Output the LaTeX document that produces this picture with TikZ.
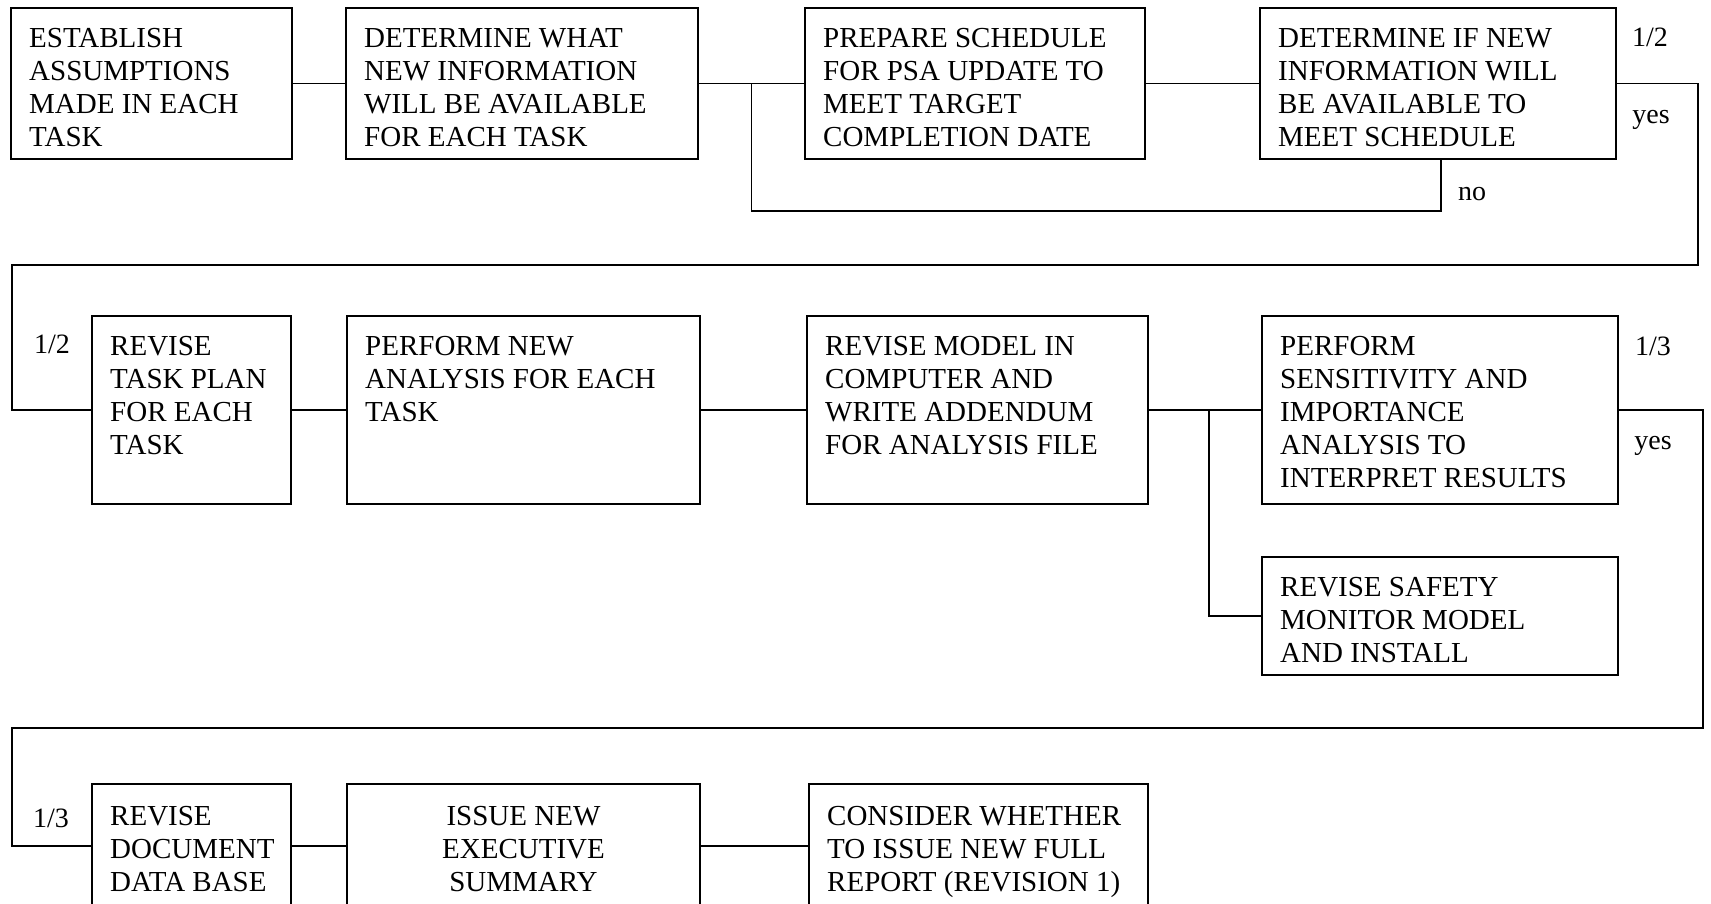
\documentclass[tikz,border=0pt]{standalone}
\usepackage{fontspec}
\setmainfont{Liberation Serif}
\usetikzlibrary{calc}
\tikzset{
  box/.style={draw, line width=1.5pt, inner sep=0pt, outer sep=0pt, anchor=north west},
  txt/.style={inner sep=0pt, anchor=north west, align=left, font=\fontsize{29}{33}\selectfont},
  ctxt/.style={inner sep=0pt, anchor=north, align=center, font=\fontsize{29}{33}\selectfont},
  lbl/.style={inner sep=0pt, font=\fontsize{28}{30}\selectfont},
  conn/.style={line width=1.5pt}
}
\begin{document}
\begin{tikzpicture}[x=1pt,y=-1pt]
\useasboundingbox (0,0) rectangle (1711,903);
\clip (0,0) rectangle (1711,903);
\fill[white] (0,0) rectangle (1711,903);
% row 1
\node[box, minimum width=281pt, minimum height=151pt] (b1) at (11,8) {};
\node[box, minimum width=352pt, minimum height=151pt] (b2) at (346,8) {};
\node[box, minimum width=340pt, minimum height=151pt] (b3) at (805,8) {};
\node[box, minimum width=356pt, minimum height=151pt] (b4) at (1260,8) {};
\node[txt] (t1) at ($(b1.north west)+(18,20)$) {ESTABLISH\\ASSUMPTIONS\\MADE IN EACH\\TASK};
\node[txt] (t2) at ($(b2.north west)+(18,20)$) {DETERMINE WHAT\\NEW INFORMATION\\WILL BE AVAILABLE\\FOR EACH TASK};
\node[txt] (t3) at ($(b3.north west)+(18,20)$) {PREPARE SCHEDULE\\FOR PSA UPDATE TO\\MEET TARGET\\COMPLETION DATE};
\node[txt] (t4) at ($(b4.north west)+(18,20)$) {DETERMINE IF NEW\\INFORMATION WILL\\BE AVAILABLE TO\\MEET SCHEDULE};
% row 2
\node[box, minimum width=199pt, minimum height=188pt] (b5) at (92,316) {};
\node[box, minimum width=353pt, minimum height=188pt] (b6) at (347,316) {};
\node[box, minimum width=341pt, minimum height=188pt] (b7) at (807,316) {};
\node[box, minimum width=356pt, minimum height=188pt] (b8) at (1262,316) {};
\node[box, minimum width=356pt, minimum height=118pt] (b9) at (1262,557) {};
\node[txt] (t5) at ($(b5.north west)+(18,20)$) {REVISE\\TASK PLAN\\FOR EACH\\TASK};
\node[txt] (t6) at ($(b6.north west)+(18,20)$) {PERFORM NEW\\ANALYSIS FOR EACH\\TASK};
\node[txt] (t7) at ($(b7.north west)+(18,20)$) {REVISE MODEL IN\\COMPUTER AND\\WRITE ADDENDUM\\FOR ANALYSIS FILE};
\node[txt] (t8) at ($(b8.north west)+(18,20)$) {PERFORM\\SENSITIVITY AND\\IMPORTANCE\\ANALYSIS TO\\INTERPRET RESULTS};
\node[txt] (t9) at ($(b9.north west)+(18,20)$) {REVISE SAFETY\\MONITOR MODEL\\AND INSTALL};
% row 3
\node[box, minimum width=199pt, minimum height=124pt] (b10) at (92,784) {};
\node[box, minimum width=353pt, minimum height=124pt] (b11) at (347,784) {};
\node[box, minimum width=339pt, minimum height=124pt] (b12) at (809,784) {};
\node[txt] (t10) at ($(b10.north west)+(18,22)$) {REVISE\\DOCUMENT\\DATA BASE};
\node[ctxt] (t11) at ($(b11.north)+(0,22)$) {ISSUE NEW\\EXECUTIVE\\SUMMARY};
\node[txt] (t12) at ($(b12.north west)+(18,22)$) {CONSIDER WHETHER\\TO ISSUE NEW FULL\\REPORT (REVISION 1)};
% labels
\node[lbl] (l1) at (1650,37) {1/2};
\node[lbl] (l2) at (1651,120) {yes};
\node[lbl] (l3) at (1472,194) {no};
\node[lbl] (l4) at (52,344) {1/2};
\node[lbl] (l5) at (1653,346) {1/3};
\node[lbl] (l6) at (1653,446) {yes};
\node[lbl] (l7) at (51,818) {1/3};
% coordinates
\coordinate (j1) at ($(b2.east)!0.5!(b3.west)$);
\coordinate (n1) at (1441,211);
\coordinate (c1) at (1698,265);
\coordinate (c2) at (12,265);
\coordinate (j2) at (1209,410);
\coordinate (c3) at (1703,728);
\coordinate (c4) at (12,728);
% connectors
\draw[conn] (b1.east) -- (b2.west);
\draw[conn] (b2.east) -- (b3.west);
\draw[conn] (b3.east) -- (b4.east -| b4.west);
\draw[conn] (j1 |- b2.east) |- (n1) -- (n1 |- b4.south);
\draw[conn] (b4.east) -| (c1) -- (c2) |- (b5.west);
\draw[conn] (b5.east) -- (b6.west);
\draw[conn] (b6.east) -- (b7.west);
\draw[conn] (b7.east) -- (b8.west);
\draw[conn] (j2 |- b7.east) |- (b9.west);
\draw[conn] (b8.east) -| (c3) -- (c4) |- (b10.west);
\draw[conn] (b10.east) -- (b11.west);
\draw[conn] (b11.east) -- (b12.west);
\end{tikzpicture}
\end{document}
